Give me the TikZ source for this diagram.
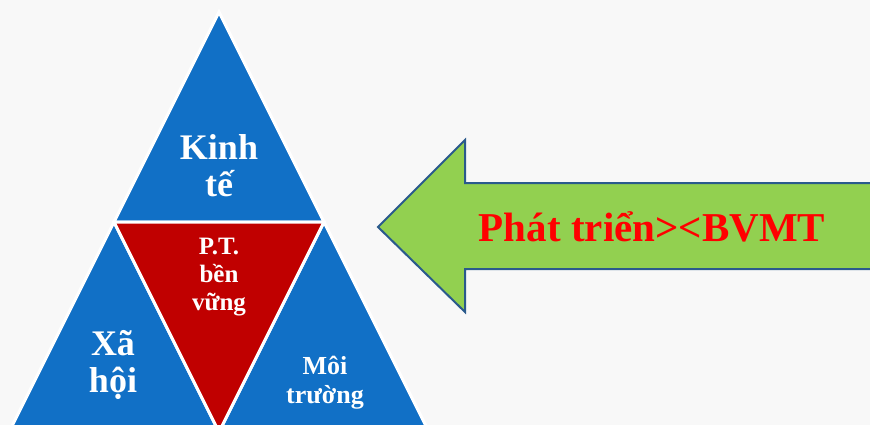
\documentclass[tikz,border=0pt]{standalone}
\usepackage{fontspec}
\setmainfont{Liberation Serif}
\definecolor{triblue}{HTML}{1170C6}
\definecolor{trired}{HTML}{C00000}
\definecolor{arrgreen}{HTML}{92D050}
\definecolor{arrline}{HTML}{2A5A8C}
\definecolor{bgpaper}{HTML}{F8F8F8}
\begin{document}
\begin{tikzpicture}[x=1pt,y=-1pt,
  tri/.style={draw=white,line width=3pt,line join=miter},
  lbl/.style={text=white,align=center,inner sep=0pt}]
  \useasboundingbox (0,0) rectangle (870,425);
  \fill[bgpaper] (0,0) rectangle (870,425);
  \clip (0,0) rectangle (870,425);
  \coordinate (top) at (219,12);
  \coordinate (ml) at (114,222);
  \coordinate (mr) at (324,222);
  \coordinate (bl) at (9,432);
  \coordinate (bm) at (219,432);
  \coordinate (br) at (429,432);
  \path[tri,fill=triblue] (top) -- (ml) -- (mr) -- cycle;
  \path[tri,fill=triblue] (ml) -- (bl) -- (bm) -- cycle;
  \path[tri,fill=triblue] (mr) -- (bm) -- (br) -- cycle;
  \path[tri,fill=trired] (ml) -- (mr) -- (bm) -- cycle;
  \node[lbl,font=\bfseries\fontsize{36}{37}\selectfont] (kt) at (219,166) {Kinh\\tế};
  \node[lbl,font=\bfseries\fontsize{36}{37}\selectfont] (xh) at (113,365) {Xã\\hội};
  \node[lbl,font=\bfseries\fontsize{25}{28}\selectfont] (ptbv) at (219,277) {P.T.\\bền\\vững};
  \node[lbl,font=\bfseries\fontsize{26}{29}\selectfont] (mt) at (325,383) {Môi\\trường};
  \draw[arrline,line width=2pt,fill=arrgreen,line join=miter]
    (378,227) -- (465,140) -- (465,183) -- (880,183) -- (880,269) -- (465,269) -- (465,312) -- cycle;
  \node[text=red,font=\bfseries\fontsize{41}{41}\selectfont,inner sep=0pt] (ptbvmt) at (652,227) {Phát triển><BVMT};
\end{tikzpicture}
\end{document}
